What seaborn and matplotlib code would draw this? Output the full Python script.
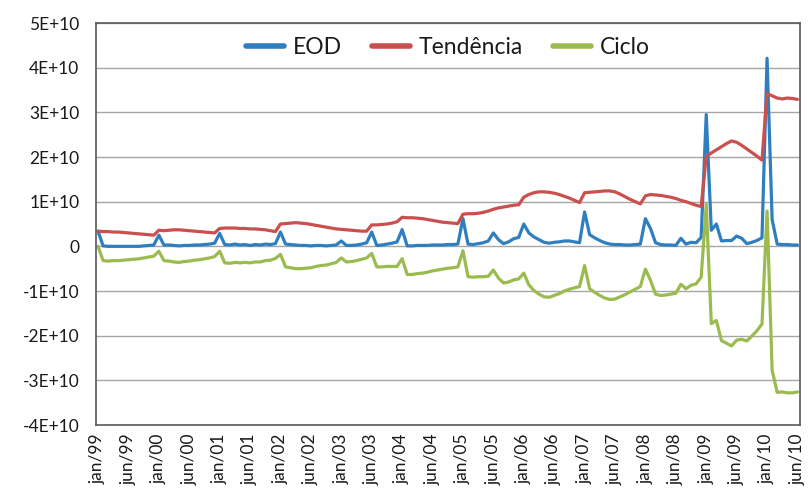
import matplotlib
matplotlib.use("Agg")
import matplotlib.pyplot as plt
import seaborn as sns
import pandas as pd
import numpy as np
from matplotlib.ticker import FixedLocator, FuncFormatter

# ---- data (values in units of 1E+09) ----
tick_labels = ["jan/99", "jun/99", "jan/00", "jun/00", "jan/01", "jun/01", "jan/02", "jun/02",
               "jan/03", "jun/03", "jan/04", "jun/04", "jan/05", "jun/05", "jan/06", "jun/06",
               "jan/07", "jun/07", "jan/08", "jun/08", "jan/09", "jun/09", "jan/10", "jun/10"]

eod = [3.4, 0.1, 0.0, 0.0, 0.0, 0.0, 0.0, 0.0, 0.0, 0.1, 0.2, 0.3,
       2.5, 0.3, 0.3, 0.2, 0.1, 0.2, 0.2, 0.3, 0.3, 0.4, 0.5, 0.7,
       2.9, 0.4, 0.3, 0.5, 0.3, 0.4, 0.2, 0.4, 0.3, 0.5, 0.4, 0.6,
       3.2, 0.5, 0.4, 0.3, 0.2, 0.2, 0.1, 0.2, 0.2, 0.1, 0.2, 0.3,
       1.2, 0.2, 0.2, 0.3, 0.5, 0.8, 3.2, 0.2, 0.3, 0.5, 0.7, 1.0,
       3.75, 0.1, 0.1, 0.2, 0.2, 0.2, 0.3, 0.3, 0.3, 0.4, 0.4, 0.5,
       6.2, 0.5, 0.4, 0.6, 0.8, 1.2, 3.0, 1.5, 0.6, 1.0, 1.7, 2.0,
       5.0, 3.0, 2.1, 1.5, 0.9, 0.7, 0.9, 1.0, 1.2, 1.2, 1.0, 0.8,
       7.7, 2.6, 1.9, 1.3, 0.8, 0.5, 0.4, 0.4, 0.3, 0.3, 0.4, 0.5,
       6.2, 4.0, 0.8, 0.4, 0.3, 0.3, 0.2, 1.8, 0.5, 0.9, 0.8, 2.0,
       29.5, 3.6, 5.0, 1.2, 1.3, 1.3, 2.3, 1.8, 0.6, 0.9, 1.3, 1.9,
       42.1, 6.0, 0.5, 0.4, 0.4, 0.3, 0.3]

tendencia = [3.4, 3.3, 3.3, 3.2, 3.2, 3.1, 3.0, 2.9, 2.8, 2.7, 2.6, 2.5,
             3.6, 3.5, 3.6, 3.7, 3.7, 3.6, 3.5, 3.4, 3.3, 3.2, 3.1, 3.0,
             4.0, 4.1, 4.1, 4.1, 4.0, 4.0, 3.9, 3.9, 3.8, 3.7, 3.5, 3.3,
             5.0, 5.1, 5.2, 5.3, 5.2, 5.1, 4.9, 4.7, 4.5, 4.3, 4.1, 3.9,
             3.8, 3.7, 3.6, 3.5, 3.4, 3.4, 4.8, 4.8, 4.9, 5.0, 5.2, 5.5,
             6.5, 6.4, 6.4, 6.3, 6.2, 6.0, 5.8, 5.6, 5.4, 5.3, 5.2, 5.1,
             7.2, 7.3, 7.3, 7.4, 7.6, 7.9, 8.3, 8.6, 8.8, 9.0, 9.2, 9.3,
             11.0, 11.6, 12.0, 12.2, 12.2, 12.1, 11.9, 11.6, 11.2, 10.8, 10.3, 9.8,
             12.0, 12.1, 12.2, 12.3, 12.4, 12.4, 12.2, 11.7, 11.1, 10.5, 10.0, 9.5,
             11.3, 11.6, 11.5, 11.4, 11.2, 11.0, 10.7, 10.3, 10.0, 9.6, 9.2, 8.9,
             20.1, 20.9, 21.6, 22.3, 23.0, 23.6, 23.3, 22.6, 21.8, 21.0, 20.2, 19.3,
             34.2, 33.7, 33.2, 33.0, 33.2, 33.1, 32.9]

ciclo = [0.0, -3.2, -3.3, -3.2, -3.2, -3.1, -3.0, -2.9, -2.8, -2.6, -2.4, -2.2,
         -1.1, -3.2, -3.3, -3.5, -3.6, -3.4, -3.3, -3.1, -3.0, -2.8, -2.6, -2.3,
         -1.1, -3.7, -3.8, -3.6, -3.7, -3.6, -3.7, -3.5, -3.5, -3.2, -3.1, -2.7,
         -1.8, -4.6, -4.8, -5.0, -5.0, -4.9, -4.8, -4.5, -4.3, -4.2, -3.9, -3.6,
         -2.6, -3.5, -3.4, -3.2, -2.9, -2.6, -1.6, -4.6, -4.6, -4.5, -4.5, -4.5,
         -2.75, -6.3, -6.3, -6.1, -6.0, -5.8, -5.5, -5.3, -5.1, -4.9, -4.8, -4.6,
         -1.0, -6.8, -6.9, -6.8, -6.8, -6.7, -5.3, -7.1, -8.2, -8.0, -7.5, -7.3,
         -6.0, -8.6, -9.9, -10.7, -11.3, -11.4, -11.0, -10.6, -10.0, -9.6, -9.3, -9.0,
         -4.3, -9.5, -10.3, -11.0, -11.6, -11.9, -11.8, -11.3, -10.8, -10.2, -9.6, -9.0,
         -5.1, -7.6, -10.7, -11.0, -10.9, -10.7, -10.5, -8.5, -9.5, -8.7, -8.4, -6.9,
         9.4, -17.3, -16.6, -21.1, -21.7, -22.3, -21.0, -20.8, -21.2, -20.1, -18.9, -17.4,
         7.9, -27.7, -32.7, -32.6, -32.8, -32.8, -32.6]

series_names = ["EOD", "Tendência", "Ciclo"]
colors = ["#2e7ec0", "#c9504d", "#9bbb4f"]

# ---- build long-form table ----
n = len(eod)
idx = np.arange(n)
df = pd.concat([
    pd.DataFrame({"i": idx, "valor": np.array(eod) * 1e9, "serie": "EOD"}),
    pd.DataFrame({"i": idx, "valor": np.array(tendencia) * 1e9, "serie": "Tendência"}),
    pd.DataFrame({"i": idx, "valor": np.array(ciclo) * 1e9, "serie": "Ciclo"}),
], ignore_index=True)

sns.set_theme(style="white")
plt.rcParams["font.family"] = ["Lato", "DejaVu Sans"]

fig = plt.figure(figsize=(8.08, 4.92), dpi=100)
ax = fig.add_axes([96 / 808, 1 - 425 / 492, 704 / 808, 402 / 492])

sns.lineplot(data=df, x="i", y="valor", hue="serie", hue_order=series_names,
             palette=dict(zip(series_names, colors)), linewidth=2.3, ax=ax,
             legend=False, solid_joinstyle="round", solid_capstyle="round")

ax.set_xlim(-0.4, n - 1 + 0.5)
ax.set_ylim(-4e10, 5e10)
ax.yaxis.set_major_locator(FixedLocator(np.arange(-4e10, 5.1e10, 1e10)))


def fmt(v, pos):
    k = int(round(v / 1e10))
    if k == 0:
        return "0"
    return f"{k}E+10"


ax.yaxis.set_major_formatter(FuncFormatter(fmt))
ax.set_xticks(np.arange(0, n, 6))
ax.set_xticklabels(tick_labels, rotation=90)
ax.tick_params(axis="both", length=0, labelsize=12.5, colors="#1a1a1a")
ax.tick_params(axis="y", pad=12)
ax.tick_params(axis="x", pad=6)
ax.set_xlabel("")
ax.set_ylabel("")

ax.grid(axis="y", color="#a6a6a6", linewidth=1.0)
ax.grid(axis="x", visible=False)
ax.set_axisbelow(True)
for s in ax.spines.values():
    s.set_visible(True)
    s.set_color("#5a5a5a")
    s.set_linewidth(1.2)

handles = [plt.Line2D([], [], color=c, linewidth=4.0) for c in colors]
leg = ax.legend(handles, series_names, loc="center", bbox_to_anchor=(0.50, 0.94),
                ncol=3, frameon=True, fontsize=16.5, handlelength=1.65,
                columnspacing=1.3, handletextpad=0.4, borderpad=0.2)
leg.get_frame().set_facecolor("white")
leg.get_frame().set_edgecolor("white")
leg.get_frame().set_alpha(1.0)
for t in leg.get_texts():
    t.set_color("#1a1a1a")

fig.savefig("out.png", dpi=100, facecolor="white")
